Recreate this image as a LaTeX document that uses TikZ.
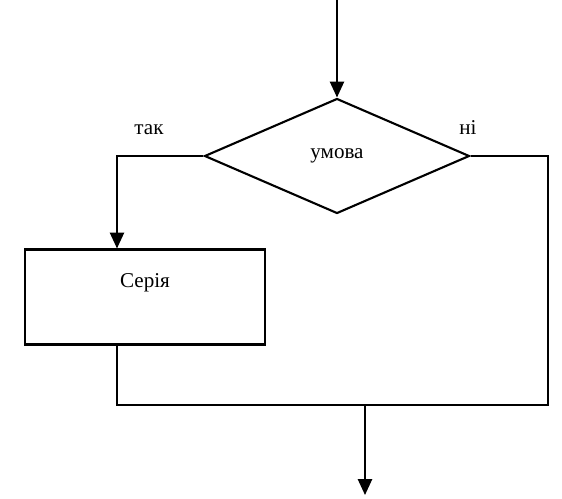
\documentclass[tikz,border=0pt]{standalone}
\usepackage{fontspec}
\setmainfont{Liberation Serif}
\usetikzlibrary{shapes.geometric,arrows.meta,calc}

\begin{document}
\begin{tikzpicture}[x=0.02cm, y=-0.02cm, line width=1.2pt, >={Triangle[width=8pt,length=9pt]},
    cond/.style={draw, diamond, minimum width=5.3cm, minimum height=2.3cm, inner sep=0pt, font=\large},
    series/.style={draw, rectangle, minimum width=4.8cm, inner sep=0pt, text height=0.75cm, text depth=1.15cm, font=\large},
    lbl/.style={font=\large}]
            \useasboundingbox (0,0) rectangle (562,498);

            % Entrada y condición
            \coordinate (start) at (337,0);
            \node[cond] (test) at (337,156) {умова};
            \draw[->] (start) -- (test.north);

            % Etiquetas de las ramas
            \node[lbl] (yes) at (149,130) {так};
            \node[lbl] (no) at (468,128) {ні};

            % Rama "так" con la serie
            \coordinate (yescorner) at (117,156);
            \node[series] (ser) at (145,297) {Серія};
            \draw[->] (test.west) -- (yescorner) -- (yescorner |- ser.north);

            % Rama "ні"
            \coordinate (nocorner) at (548,156);
            \coordinate (join) at (117,405);
            \coordinate (nojoin) at (548,405);
            \draw (test.east) -- (nocorner) -- (nojoin) -- (join) -- (join |- ser.south);

            % Salida
            \coordinate (stop) at (365,495);
            \draw[->] (stop |- join) -- (stop);
        \end{tikzpicture}
\end{document}
